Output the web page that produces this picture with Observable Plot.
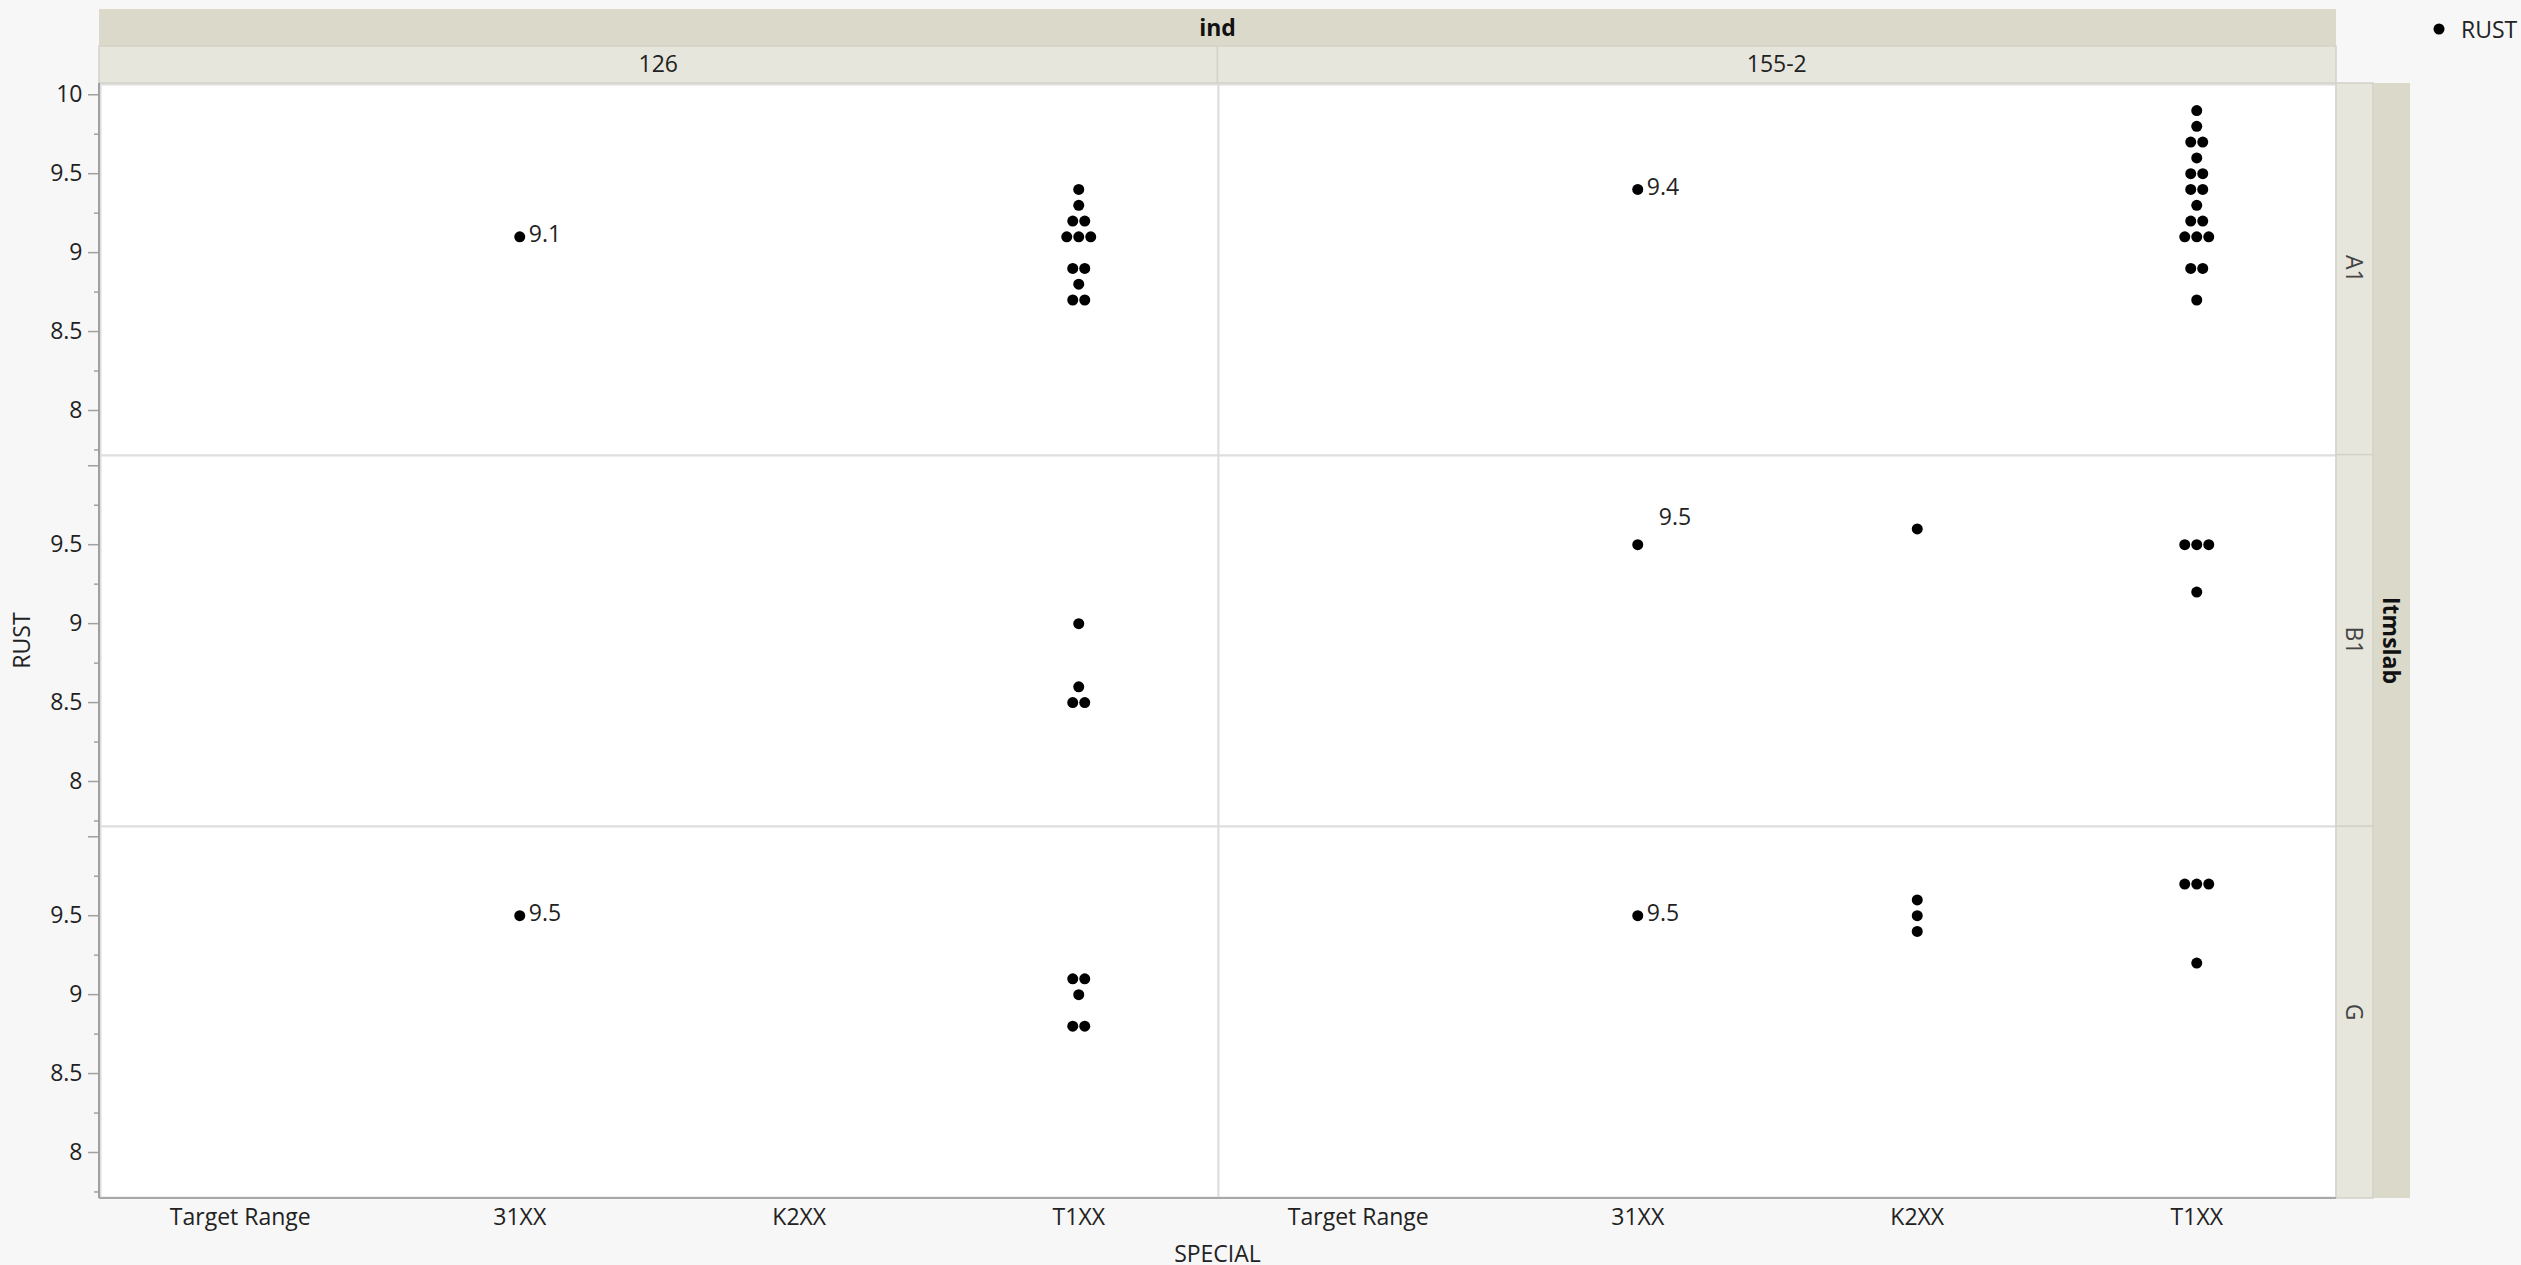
<!DOCTYPE html>
<html><head><meta charset="utf-8">
<script src="https://cdn.jsdelivr.net/npm/d3@7"></script>
<script src="https://cdn.jsdelivr.net/npm/@observablehq/plot@0.6"></script>
<style>
html,body{margin:0;padding:0;background:#f7f7f7;overflow:hidden;}
#chart svg{display:block;}
</style></head><body><div id="chart"></div>
<script>
// ---- categories & ticks ----
const inds = ["126", "155-2"];
const slabs = ["A1", "B1", "G"];
const specials = ["Target Range", "31XX", "K2XX", "T1XX"];
const yTicks = [8, 8.5, 9, 9.5, 10];
const yMinorTicks = [7.75, 8.25, 8.75, 9.25, 9.75];
const labeledSpecial = "31XX";
const legendLabel = "RUST";

// ---- RUST values per (ind, Itmslab, SPECIAL) cell ----
const rust_126_A1_31XX = [9.1];
const rust_126_A1_T1XX = [9.4, 9.3, 9.2, 9.2, 9.1, 9.1, 9.1, 8.9, 8.9, 8.8, 8.7, 8.7];
const rust_126_B1_T1XX = [9.0, 8.6, 8.5, 8.5];
const rust_126_G_31XX = [9.5];
const rust_126_G_T1XX = [9.1, 9.1, 9.0, 8.8, 8.8];
const rust_1552_A1_31XX = [9.4];
const rust_1552_A1_T1XX = [9.9, 9.8, 9.7, 9.7, 9.6, 9.5, 9.5, 9.4, 9.4, 9.3, 9.2, 9.2, 9.1, 9.1, 9.1, 8.9, 8.9, 8.7];
const rust_1552_B1_31XX = [9.5];
const rust_1552_B1_K2XX = [9.6];
const rust_1552_B1_T1XX = [9.5, 9.5, 9.5, 9.2];
const rust_1552_G_31XX = [9.5];
const rust_1552_G_K2XX = [9.6, 9.5, 9.4];
const rust_1552_G_T1XX = [9.7, 9.7, 9.7, 9.2];

const cells = [
  ["126", "A1", "31XX", rust_126_A1_31XX],
  ["126", "A1", "T1XX", rust_126_A1_T1XX],
  ["126", "B1", "T1XX", rust_126_B1_T1XX],
  ["126", "G", "31XX", rust_126_G_31XX],
  ["126", "G", "T1XX", rust_126_G_T1XX],
  ["155-2", "A1", "31XX", rust_1552_A1_31XX],
  ["155-2", "A1", "T1XX", rust_1552_A1_T1XX],
  ["155-2", "B1", "31XX", rust_1552_B1_31XX],
  ["155-2", "B1", "K2XX", rust_1552_B1_K2XX],
  ["155-2", "B1", "T1XX", rust_1552_B1_T1XX],
  ["155-2", "G", "31XX", rust_1552_G_31XX],
  ["155-2", "G", "K2XX", rust_1552_G_K2XX],
  ["155-2", "G", "T1XX", rust_1552_G_T1XX]
];

// ---- layout ----
const W = 2521, H = 1265, ML = 99, MR = 185, MT = 83, MB = 67;
const facetW = (W - ML - MR) / inds.length;
const rowH = (H - MT - MB) / slabs.length;
const unitPx = facetW / specials.length;
const dotStep = 12 / unitPx; // JMP-like side-by-side placement of tied values

const points = [];
for (const [ind, slab, special, values] of cells) {
  const counts = d3.rollup(values, v => v.length, d => d);
  const seen = new Map();
  for (const v of values) {
    const n = counts.get(v), k = seen.get(v) ?? 0;
    seen.set(v, k + 1);
    points.push({ind, slab, special, rust: v,
      xpos: specials.indexOf(special) + (k - (n - 1) / 2) * dotStep});
  }
}
const yLabels = [];
for (const slab of slabs) for (const v of yTicks) {
  if (slab === slabs[0] || v < 10) yLabels.push({ind: inds[0], slab, v});
}
const isRaised = d => d.ind === "155-2" && d.slab === "B1";
const labelPts = points.filter(d => d.special === labeledSpecial);

const font = "'Open Sans', 'Noto Sans', sans-serif";
const FS = 23;
const fmt = d3.format(".1f");

const plot = Plot.plot({
  width: W, height: H,
  marginLeft: ML, marginRight: MR, marginTop: MT, marginBottom: MB,
  style: {background: "transparent", fontFamily: font, fontSize: FS + "px", color: "#222", overflow: "visible"},
  fx: {domain: inds, padding: 0, axis: null},
  fy: {domain: slabs, padding: 0, axis: null},
  x: {type: "linear", domain: [-0.5, specials.length - 0.5], axis: null},
  y: {domain: [7.715, 10.065], axis: null},
  marks: [
    Plot.frame({fill: "white", stroke: "#dedede", strokeWidth: 2}),
    Plot.axisY({ticks: yTicks, tickSize: 12, tickFormat: () => "", stroke: "#a0a0a0", strokeWidth: 1.5, label: null}),
    Plot.axisY({ticks: yMinorTicks, tickSize: 6, tickFormat: () => "", stroke: "#a0a0a0", strokeWidth: 1.5, label: null}),
    Plot.text(yLabels, {fx: "ind", fy: "slab", y: "v", text: d => String(d.v), frameAnchor: "left", textAnchor: "end", dx: -18, fill: "#222"}),
    Plot.axisX({ticks: specials.map((_, i) => i), tickFormat: i => specials[i], tickSize: 0, tickPadding: 11, label: null, fill: "#222"}),
    Plot.dot(points, {fx: "ind", fy: "slab", x: "xpos", y: "rust", r: 5.5, fill: "black", stroke: "none"}),
    Plot.text(labelPts.filter(d => !isRaised(d)), {fx: "ind", fy: "slab", x: "xpos", y: "rust", text: d => fmt(d.rust), textAnchor: "start", dx: 9, dy: -2, fill: "#222"}),
    Plot.text(labelPts.filter(isRaised), {fx: "ind", fy: "slab", x: "xpos", y: "rust", text: d => fmt(d.rust), textAnchor: "start", dx: 21, dy: -27, fill: "#222"})
  ]
});
document.getElementById("chart").appendChild(plot);

// ---- JMP-style strips, axis lines, titles, legend ----
const svg = d3.select(plot);
const dark = "#dbd9ca", light = "#e7e6dd", edge = "#d3d2c7";
const deco = svg.append("g").attr("font-family", font).attr("font-size", FS).attr("fill", "#222");
// top header
deco.append("rect").attr("x", ML).attr("y", 9).attr("width", W - ML - MR).attr("height", 37).attr("fill", dark);
deco.append("text").attr("x", ML + (W - ML - MR) / 2).attr("y", 27).attr("text-anchor", "middle")
  .attr("dominant-baseline", "central").attr("font-weight", "bold").attr("fill", "#111").text("ind");
inds.forEach((ind, i) => {
  deco.append("rect").attr("x", ML + i * facetW).attr("y", 46).attr("width", facetW).attr("height", 37)
    .attr("fill", light).attr("stroke", edge).attr("stroke-width", 1.5);
  deco.append("text").attr("x", ML + (i + 0.5) * facetW).attr("y", 62.5).attr("text-anchor", "middle")
    .attr("dominant-baseline", "central").text(ind);
});
// right strips
deco.append("rect").attr("x", W - MR + 37).attr("y", MT).attr("width", 37).attr("height", H - MT - MB).attr("fill", dark);
slabs.forEach((s, j) => {
  deco.append("rect").attr("x", W - MR).attr("y", MT + j * rowH).attr("width", 37).attr("height", rowH)
    .attr("fill", light).attr("stroke", edge).attr("stroke-width", 1.5);
  const cx = W - MR + 18.5, cy = MT + (j + 0.5) * rowH;
  deco.append("text").attr("transform", `translate(${cx},${cy}) rotate(90)`).attr("text-anchor", "middle")
    .attr("dominant-baseline", "central").attr("fill", "#444").text(s);
});
deco.append("text").attr("transform", `translate(${W - MR + 55.5},${MT + (H - MT - MB) / 2}) rotate(90)`)
  .attr("text-anchor", "middle").attr("dominant-baseline", "central").attr("font-weight", "bold").attr("fill", "#111").text("Itmslab");
// axis lines
deco.append("line").attr("x1", ML).attr("x2", ML).attr("y1", MT).attr("y2", H - MB).attr("stroke", "#a0a0a0").attr("stroke-width", 2);
deco.append("line").attr("x1", ML).attr("x2", W - MR).attr("y1", H - MB).attr("y2", H - MB).attr("stroke", "#a8a8a8").attr("stroke-width", 2);
// axis titles
deco.append("text").attr("transform", `translate(21,${MT + (H - MT - MB) / 2}) rotate(-90)`).attr("text-anchor", "middle")
  .attr("dominant-baseline", "central").text("RUST");
deco.append("text").attr("x", ML + (W - ML - MR) / 2).attr("y", 1253).attr("text-anchor", "middle")
  .attr("dominant-baseline", "central").text("SPECIAL");
// legend
deco.append("circle").attr("cx", 2439).attr("cy", 29).attr("r", 5.5).attr("fill", "black");
deco.append("text").attr("x", 2461).attr("y", 29).attr("text-anchor", "start").attr("dominant-baseline", "central").text(legendLabel);
</script></body></html>
